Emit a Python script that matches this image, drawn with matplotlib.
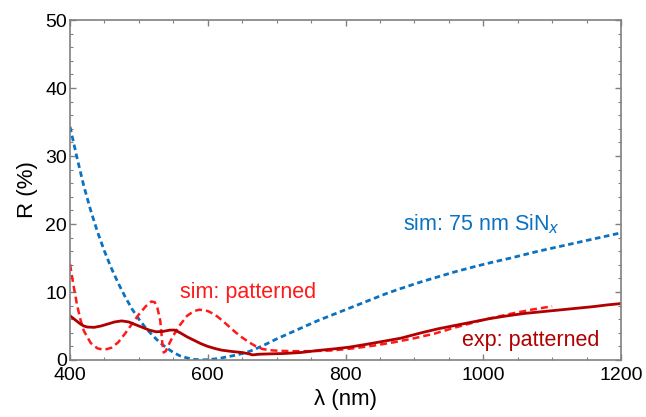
import matplotlib
matplotlib.use("Agg")
import matplotlib.pyplot as plt
from matplotlib.ticker import MultipleLocator

plt.rcParams['font.family'] = ['Liberation Sans', 'DejaVu Sans']

# sim: 75 nm SiNx (blue dashed)
wl_sin = [400, 410, 420, 430, 440, 450, 460, 470, 480, 490, 500, 510, 520, 530, 540, 550,
          560, 570, 580, 590, 600, 610, 620, 630, 640, 650, 660, 670, 685, 700, 720, 740,
          760, 780, 800, 830, 860, 880, 910, 940, 960, 990, 1010, 1040, 1080, 1120, 1160, 1200]
r_sin = [34.3, 29.8, 25.6, 22.0, 18.8, 16.0, 13.5, 11.3, 9.3, 7.5, 6.0, 4.7, 3.6, 2.6, 1.8, 1.1,
         0.6, 0.3, 0.1, 0.0, 0.05, 0.15, 0.3, 0.5, 0.7, 0.95, 1.25, 1.65, 2.35, 3.1, 4.0, 4.9,
         5.8, 6.6, 7.4, 8.6, 9.8, 10.5, 11.5, 12.4, 13.0, 13.8, 14.3, 15.0, 16.0, 16.9, 17.8, 18.7]

# sim: patterned (red dashed)
wl_sim = [400, 405, 410, 415, 420, 430, 440, 450, 460, 470, 480, 490, 500, 510, 518, 523,
          527, 531, 534, 536, 539, 545, 550, 560, 570, 580, 588, 600, 610, 620, 630, 640,
          650, 660, 670, 680, 695, 720, 750, 780, 810, 840, 870, 900, 930, 960, 1000, 1040,
          1070, 1100]
r_sim = [14.1, 11.0, 8.2, 6.0, 4.3, 2.5, 1.7, 1.5, 1.8, 2.6, 3.9, 5.3, 6.7, 7.9, 8.6, 8.5,
         7.6, 5.8, 2.5, 1.1, 1.3, 2.6, 3.6, 5.2, 6.5, 7.2, 7.4, 7.2, 6.7, 5.9, 5.0, 4.1,
         3.3, 2.6, 2.0, 1.6, 1.4, 1.3, 1.3, 1.4, 1.7, 2.1, 2.6, 3.2, 3.9, 4.8, 5.9, 6.8,
         7.4, 7.9]

# exp: patterned (dark red solid)
wl_exp = [400, 405, 410, 415, 420, 425, 435, 445, 455, 465, 475, 485, 495, 505, 515, 525,
          535, 545, 552, 560, 570, 580, 590, 600, 610, 620, 635, 650, 660, 665, 675, 690,
          710, 735, 760, 785, 806, 830, 855, 880, 910, 935, 960, 985, 1010, 1035, 1060, 1085,
          1110, 1135, 1160, 1180, 1200]
r_exp = [6.5, 6.1, 5.7, 5.3, 5.0, 4.85, 4.8, 5.0, 5.3, 5.6, 5.75, 5.6, 5.2, 4.8, 4.4, 4.15,
         4.2, 4.4, 4.4, 4.0, 3.4, 2.9, 2.4, 2.0, 1.7, 1.45, 1.25, 1.1, 0.9, 0.75, 0.85, 0.9,
         0.95, 1.1, 1.4, 1.65, 1.9, 2.3, 2.75, 3.2, 4.0, 4.6, 5.1, 5.6, 6.1, 6.5, 6.85, 7.1,
         7.35, 7.6, 7.85, 8.1, 8.3]

blue = '#0a72c0'
red = '#ff1a1a'
dark = '#b00000'

fig = plt.figure(figsize=(6.46, 4.17), dpi=100)
ax = fig.add_axes([0.1084, 0.1367, 0.8529, 0.8153])

ax.plot(wl_sin, r_sin, color=blue, lw=2.0, dashes=(2, 1.3))
ax.plot(wl_sim, r_sim, color=red, lw=1.8, dashes=(2.8, 1.6))
ax.plot(wl_exp, r_exp, color=dark, lw=2.0)

ax.set_xlim(400, 1200)
ax.set_ylim(0, 50)
ax.xaxis.set_major_locator(MultipleLocator(200))
ax.xaxis.set_minor_locator(MultipleLocator(50))
ax.yaxis.set_major_locator(MultipleLocator(10))
ax.yaxis.set_minor_locator(MultipleLocator(2))
ax.tick_params(which='both', direction='in', top=True, right=True, color='#808080',
               labelsize=14)
ax.tick_params(axis='x', which='major', pad=5)
ax.tick_params(axis='y', which='major', pad=2)
ax.tick_params(which='major', length=4, width=1)
ax.tick_params(which='minor', length=2.5, width=0.8)
for s in ax.spines.values():
    s.set_color('#808080')
    s.set_linewidth(1.2)

ax.set_xlabel('λ (nm)', fontsize=16, labelpad=4)
ax.set_ylabel('R (%)', fontsize=16, labelpad=5)

ax.text(883, 19.9, r'sim: 75 nm SiN$_x$', color=blue, fontsize=15.5, ha='left', va='center')
ax.text(560, 10.0, 'sim: patterned', color=red, fontsize=15.5, ha='left', va='center')
ax.text(969, 2.9, 'exp: patterned', color=dark, fontsize=15.5, ha='left', va='center')

fig.savefig('out.png', dpi=100)
